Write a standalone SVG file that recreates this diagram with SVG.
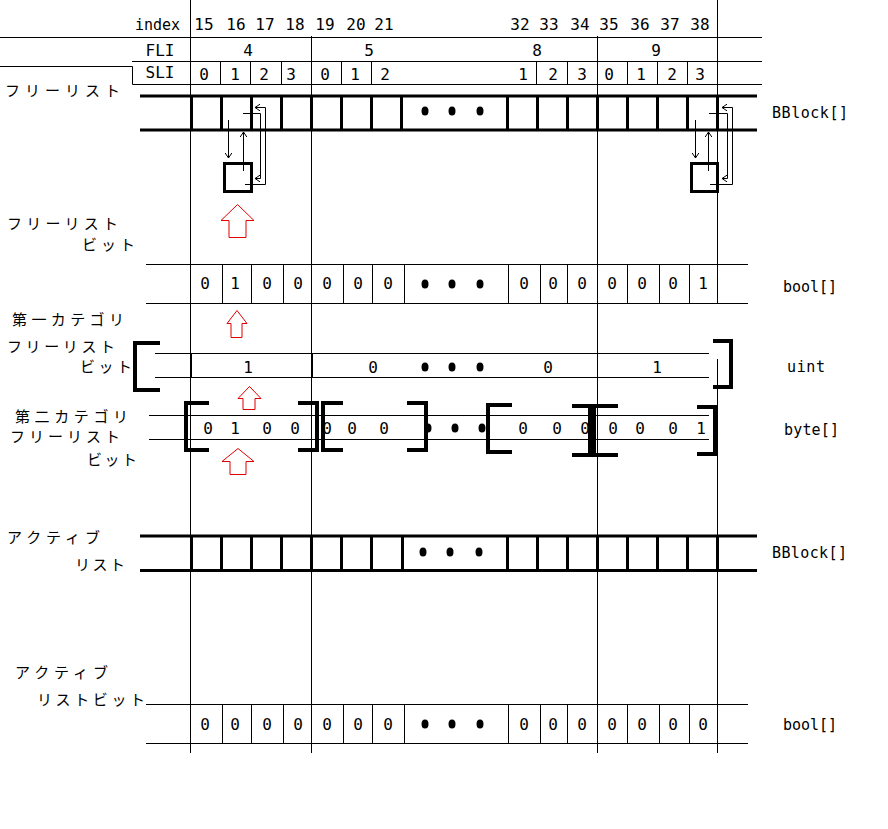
<svg xmlns="http://www.w3.org/2000/svg" width="888" height="829" viewBox="0 0 888 829">
<style>
.bg{fill:#fff}
.l{stroke:#000;stroke-width:1;fill:none}
.k{stroke:#000;stroke-width:3;fill:none}
.br{stroke:#000;stroke-width:4;fill:none}
.ar{stroke:#000;stroke-width:1;fill:none}
.ra{stroke:#e00000;stroke-width:1;fill:#fff}
.d{fill:#000}
.t{font-family:"DejaVu Sans Mono","Liberation Mono",monospace;font-size:16px;text-anchor:middle;fill:#000}
.s{font-family:"DejaVu Sans Mono","Liberation Mono",monospace;font-size:15px;fill:#000}
.j{font-family:"Noto Sans CJK JP","DejaVu Sans",sans-serif;font-size:15px;fill:#000}
</style>
<defs>
<marker id="ah" viewBox="0 0 6 8" refX="6" refY="4" markerWidth="5" markerHeight="7" markerUnits="userSpaceOnUse" orient="auto">
<path d="M0,0 L6,4 L0,8" fill="none" stroke="#000" stroke-width="1.2"/>
</marker>
</defs>
<rect class="bg" width="888" height="829"/>

<g id="grid">
<line class="l" x1="190.5" y1="0" x2="190.5" y2="753"/>
<line class="l" x1="311.5" y1="36" x2="311.5" y2="753"/>
<line class="l" x1="597.5" y1="36" x2="597.5" y2="753"/>
<line class="l" x1="717.5" y1="0" x2="717.5" y2="303"/>
<line class="l" x1="717.5" y1="359" x2="717.5" y2="753"/>
<line class="l" x1="0" y1="37.5" x2="762" y2="37.5"/>
<line class="l" x1="132" y1="61.5" x2="762" y2="61.5"/>
<path class="l" d="M0,66.5 H132.5 V84.5 H762"/>
</g>

<g id="header">
<text class="s" x="135" y="30" textLength="45" lengthAdjust="spacing">index</text>
<g class="t">
<text x="204" y="30">15</text><text x="236" y="30">16</text><text x="265" y="30">17</text><text x="295" y="30">18</text><text x="325" y="30">19</text><text x="356" y="30">20</text><text x="384" y="30">21</text>
<text x="520" y="30">32</text><text x="549" y="30">33</text><text x="580" y="30">34</text><text x="609" y="30">35</text><text x="640" y="30">36</text><text x="670" y="30">37</text><text x="700" y="30">38</text>
<text x="160" y="56">FLI</text>
<text x="248" y="56">4</text><text x="369" y="56">5</text><text x="537" y="56">8</text><text x="656" y="56">9</text>
<text x="160" y="78">SLI</text>
<text x="204" y="80">0</text><text x="235" y="80">1</text><text x="264" y="80">2</text><text x="291" y="80">3</text><text x="325" y="80">0</text><text x="355" y="80">1</text><text x="385" y="80">2</text>
<text x="523" y="80">1</text><text x="553" y="80">2</text><text x="582" y="80">3</text><text x="609" y="80">0</text><text x="641" y="80">1</text><text x="672" y="80">2</text><text x="700" y="80">3</text>
</g>
<path class="l" d="M220.5,61.5 V84.5 M250.5,61.5 V84.5 M281.5,61.5 V84.5 M341.5,61.5 V84.5 M371.5,61.5 V84.5 M536.5,61.5 V84.5 M567.5,61.5 V84.5 M627.5,61.5 V84.5 M657.5,61.5 V84.5 M687.5,61.5 V84.5"/>
</g>

<g id="labels">
<text class="j" x="5" y="96" textLength="115" lengthAdjust="spacing">フリーリスト</text>
<text class="j" x="7" y="229" textLength="111" lengthAdjust="spacing">フリーリスト</text>
<text class="j" x="82" y="250" textLength="53" lengthAdjust="spacing">ビット</text>
<text class="j" x="12" y="325" textLength="112" lengthAdjust="spacing">第一カテゴリ</text>
<text class="j" x="7" y="352" textLength="108" lengthAdjust="spacing">フリーリスト</text>
<text class="j" x="80" y="372" textLength="52" lengthAdjust="spacing">ビット</text>
<text class="j" x="15" y="422" textLength="113" lengthAdjust="spacing">第二カテゴリ</text>
<text class="j" x="10" y="442" textLength="110" lengthAdjust="spacing">フリーリスト</text>
<text class="j" x="87" y="465" textLength="50" lengthAdjust="spacing">ビット</text>
<text class="j" x="7" y="543" textLength="93" lengthAdjust="spacing">アクティブ</text>
<text class="j" x="75" y="570" textLength="50" lengthAdjust="spacing">リスト</text>
<text class="j" x="15" y="678" textLength="93" lengthAdjust="spacing">アクティブ</text>
<text class="j" x="37" y="705" textLength="108" lengthAdjust="spacing">リストビット</text>
</g>

<g id="types">
<text class="s" x="772" y="118" textLength="76" lengthAdjust="spacing">BBlock[]</text>
<text class="s" x="783" y="292" textLength="54" lengthAdjust="spacing">bool[]</text>
<text class="s" x="787" y="372" textLength="38" lengthAdjust="spacing">uint</text>
<text class="s" x="784" y="435" textLength="55" lengthAdjust="spacing">byte[]</text>
<text class="s" x="772" y="558" textLength="75" lengthAdjust="spacing">BBlock[]</text>
<text class="s" x="783" y="730" textLength="54" lengthAdjust="spacing">bool[]</text>
</g>

<g id="freelist">
<line class="k" x1="140" y1="96" x2="757" y2="96"/>
<line class="k" x1="140" y1="130" x2="757" y2="130"/>
<path class="k" d="M191.5,96 V130 M221.5,96 V130 M251.5,96 V130 M281.5,96 V130 M311.5,96 V130 M341.5,96 V130 M371.5,96 V130 M401.5,96 V130 M507.5,96 V130 M537.5,96 V130 M567.5,96 V130 M597.5,96 V130 M627.5,96 V130 M657.5,96 V130 M687.5,96 V130 M717.5,96 V130"/>
<ellipse class="d" cx="425" cy="111" rx="3.5" ry="4.5"/><ellipse class="d" cx="452" cy="111" rx="3.5" ry="4.5"/><ellipse class="d" cx="480" cy="111" rx="3.5" ry="4.5"/>
</g>

<g id="block16">
<rect class="k" x="224.5" y="163.5" width="27" height="28"/>
</g>
<g id="block38">
<rect class="k" x="691.5" y="163.5" width="26" height="28"/>
</g>

<g id="connectors">
<path class="ar" d="M228.5,120 V158" marker-end="url(#ah)"/>
<path class="ar" d="M243.5,171 V132" marker-end="url(#ah)"/>
<path class="ar" d="M243,113.5 H260.5 V178.5 H255" marker-end="url(#ah)"/>
<path class="ar" d="M245,184.5 H265.5 V107.5 H255" marker-end="url(#ah)"/>
<path class="ar" d="M695.5,120 V158" marker-end="url(#ah)"/>
<path class="ar" d="M708.5,171 V132" marker-end="url(#ah)"/>
<path class="ar" d="M709,113.5 H727.5 V178.5 H722" marker-end="url(#ah)"/>
<path class="ar" d="M710,184.5 H732.5 V107.5 H722" marker-end="url(#ah)"/>
<polygon class="ra" points="237.5,204.5 254,220.5 246,220.5 246,237.5 229,237.5 229,220.5 221,220.5"/>
<polygon class="ra" points="237,310.5 247,323.5 242,323.5 242,337.5 231,337.5 231,323.5 227,323.5"/>
<polygon class="ra" points="249.5,386.5 261,398.5 255,398.5 255,409.5 243,409.5 243,398.5 238,398.5"/>
<polygon class="ra" points="238,448.5 254,461.5 246,461.5 246,474.5 230,474.5 230,461.5 222,461.5"/>
</g>

<g id="freelistbit">
<line class="l" x1="146" y1="264.5" x2="748" y2="264.5"/>
<line class="l" x1="146" y1="303.5" x2="748" y2="303.5"/>
<path class="l" d="M222.5,264 V303 M251.5,264 V303 M283.5,264 V303 M343.5,264 V303 M372.5,264 V303 M404.5,264 V303 M508.5,264 V303 M540.5,264 V303 M567.5,264 V303 M627.5,264 V303 M659.5,264 V303 M689.5,264 V303"/>
<g class="t">
<text x="205" y="289">0</text><text x="235" y="289">1</text><text x="267" y="289">0</text><text x="298" y="289">0</text><text x="327" y="289">0</text><text x="358" y="289">0</text><text x="388" y="289">0</text>
<text x="524" y="289">0</text><text x="553" y="289">0</text><text x="582" y="289">0</text><text x="612" y="289">0</text><text x="642" y="289">0</text><text x="673" y="289">0</text><text x="703" y="289">1</text>
</g>
<ellipse class="d" cx="425" cy="284" rx="3.5" ry="4.5"/><ellipse class="d" cx="452" cy="284" rx="3.5" ry="4.5"/><ellipse class="d" cx="480" cy="284" rx="3.5" ry="4.5"/>
</g>

<g id="firstcat">
<line class="l" x1="155" y1="353.5" x2="709" y2="353.5"/>
<line class="l" x1="155" y1="377.5" x2="709" y2="377.5"/>
<path stroke="#000" stroke-width="2" d="M191,353 V378 M312,353 V378"/>
<path class="br" d="M160,343 H135 V390 H160"/>
<path class="br" d="M713,341 H731 V387 H713"/>
<g class="t">
<text x="248" y="373">1</text><text x="373" y="373">0</text><text x="548" y="373">0</text><text x="657" y="373">1</text>
</g>
<ellipse class="d" cx="425" cy="367" rx="3.5" ry="4.5"/><ellipse class="d" cx="452" cy="367" rx="3.5" ry="4.5"/><ellipse class="d" cx="480" cy="367" rx="3.5" ry="4.5"/>
</g>

<g id="secondcat">
<line class="l" x1="149" y1="415.5" x2="709" y2="415.5"/>
<line class="l" x1="149" y1="439.5" x2="709" y2="439.5"/>
<path class="br" d="M209,403 H186 V450 H209"/>
<path class="br" d="M298,403 H317 V450 H298"/>
<path class="br" d="M343,403 H323 V450 H343"/>
<path class="br" d="M407,403 H426 V450 H407"/>
<path class="br" d="M512,405 H488 V452 H512"/>
<path class="br" d="M572,406 H590 V455 H572"/>
<path class="br" d="M618,406 H594 V455 H618"/>
<path class="br" d="M697,407 H715 V454 H697"/>
<g class="t">
<text x="208" y="434">0</text><text x="235" y="434">1</text><text x="267" y="434">0</text><text x="295" y="434">0</text><text x="327" y="434">0</text><text x="352" y="434">0</text><text x="384" y="434">0</text>
<text x="523" y="434">0</text><text x="557" y="434">0</text><text x="585" y="434">0</text><text x="613" y="434">0</text><text x="640" y="434">0</text><text x="673" y="434">0</text><text x="701" y="434">1</text>
</g>
<ellipse class="d" cx="428" cy="428" rx="3.5" ry="4.5"/><ellipse class="d" cx="455" cy="428" rx="3.5" ry="4.5"/><ellipse class="d" cx="482" cy="428" rx="3.5" ry="4.5"/>
</g>

<g id="activelist">
<line class="k" x1="140" y1="536" x2="757" y2="536"/>
<line class="k" x1="140" y1="570.5" x2="757" y2="570.5"/>
<path class="k" d="M191.5,536 V570 M221.5,536 V570 M251.5,536 V570 M281.5,536 V570 M311.5,536 V570 M341.5,536 V570 M371.5,536 V570 M402.5,536 V570 M507.5,536 V570 M537.5,536 V570 M567.5,536 V570 M597.5,536 V570 M627.5,536 V570 M657.5,536 V570 M687.5,536 V570 M717.5,536 V570"/>
<ellipse class="d" cx="423" cy="552" rx="3.5" ry="4.5"/><ellipse class="d" cx="450" cy="552" rx="3.5" ry="4.5"/><ellipse class="d" cx="479" cy="552" rx="3.5" ry="4.5"/>
</g>

<g id="activebit">
<line class="l" x1="146" y1="704.5" x2="748" y2="704.5"/>
<line class="l" x1="146" y1="743.5" x2="748" y2="743.5"/>
<path class="l" d="M222.5,704 V743 M251.5,704 V743 M283.5,704 V743 M343.5,704 V743 M372.5,704 V743 M404.5,704 V743 M508.5,704 V743 M540.5,704 V743 M567.5,704 V743 M627.5,704 V743 M659.5,704 V743 M689.5,704 V743"/>
<g class="t">
<text x="205" y="730">0</text><text x="235" y="730">0</text><text x="267" y="730">0</text><text x="298" y="730">0</text><text x="327" y="730">0</text><text x="358" y="730">0</text><text x="388" y="730">0</text>
<text x="524" y="730">0</text><text x="553" y="730">0</text><text x="582" y="730">0</text><text x="612" y="730">0</text><text x="642" y="730">0</text><text x="673" y="730">0</text><text x="703" y="730">0</text>
</g>
<ellipse class="d" cx="425" cy="724" rx="3.5" ry="4.5"/><ellipse class="d" cx="452" cy="724" rx="3.5" ry="4.5"/><ellipse class="d" cx="480" cy="724" rx="3.5" ry="4.5"/>
</g>
</svg>
